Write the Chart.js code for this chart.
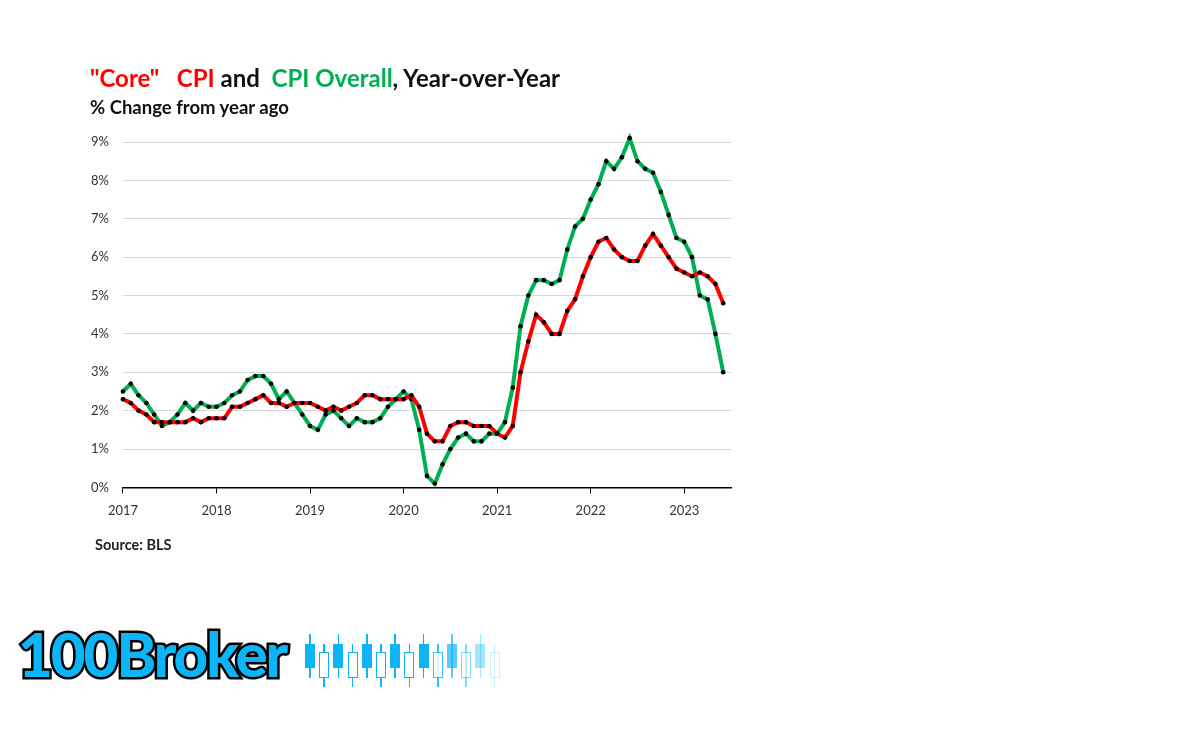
<!DOCTYPE html>
<html>
<head>
<meta charset="utf-8">
<script src="https://cdn.jsdelivr.net/npm/chart.js@4.4.0/dist/chart.umd.min.js"></script>
<style>
  body { margin: 0; background: #fff; width: 1200px; height: 730px; overflow: hidden; font-family: Lato, "Open Sans", sans-serif; }
  #wrap { position: absolute; left: 0; top: 0; width: 1200px; height: 730px; }
  .title { position: absolute; left: 90px; top: 63px; font-size: 24px; font-weight: bold; color: #111; white-space: pre; }
  .sub { position: absolute; left: 90px; top: 96px; font-size: 18.5px; font-weight: bold; color: #111; }
  .src { position: absolute; left: 95px; top: 536px; font-size: 14.5px; font-weight: bold; color: #222; }
  .red { color: #ff0000; }
  .green { color: #00b050; }
  .logo { position: absolute; left: 18px; top: 618px; font-size: 60px; font-weight: 900; color: #0db4f6;
          -webkit-text-stroke: 5px #000; paint-order: stroke fill; letter-spacing: -2px; }
  #candles { position: absolute; left: 305px; top: 633px; width: 210px; height: 56px; }
  .c { position: absolute; width: 10px; }
</style>
</head>
<body>
<div id="wrap"><canvas id="chart" width="1200" height="730"></canvas></div>
<div class="title"><span class="red">"Core"   CPI</span> and  <span class="green">CPI Overall</span>, Year-over-Year</div>
<div class="sub">% Change from year ago</div>
<div class="src">Source: BLS</div>
<div class="logo">100Broker</div>
<div id="candles"></div>
<script>
// monthly, Jan 2017 .. Jun 2023
const years = ['2017', '2018', '2019', '2020', '2021', '2022', '2023'];
const yTicks = [0, 1, 2, 3, 4, 5, 6, 7, 8, 9];

const coreCpi = [
  2.3, 2.2, 2.0, 1.9, 1.7, 1.7, 1.7, 1.7, 1.7, 1.8, 1.7, 1.8,
  1.8, 1.8, 2.1, 2.1, 2.2, 2.3, 2.4, 2.2, 2.2, 2.1, 2.2, 2.2,
  2.2, 2.1, 2.0, 2.1, 2.0, 2.1, 2.2, 2.4, 2.4, 2.3, 2.3, 2.3,
  2.3, 2.4, 2.1, 1.4, 1.2, 1.2, 1.6, 1.7, 1.7, 1.6, 1.6, 1.6,
  1.4, 1.3, 1.6, 3.0, 3.8, 4.5, 4.3, 4.0, 4.0, 4.6, 4.9, 5.5,
  6.0, 6.4, 6.5, 6.2, 6.0, 5.9, 5.9, 6.3, 6.6, 6.3, 6.0, 5.7,
  5.6, 5.5, 5.6, 5.5, 5.3, 4.8
];

const overallCpi = [
  2.5, 2.7, 2.4, 2.2, 1.9, 1.6, 1.7, 1.9, 2.2, 2.0, 2.2, 2.1,
  2.1, 2.2, 2.4, 2.5, 2.8, 2.9, 2.9, 2.7, 2.3, 2.5, 2.2, 1.9,
  1.6, 1.5, 1.9, 2.0, 1.8, 1.6, 1.8, 1.7, 1.7, 1.8, 2.1, 2.3,
  2.5, 2.3, 1.5, 0.3, 0.1, 0.6, 1.0, 1.3, 1.4, 1.2, 1.2, 1.4,
  1.4, 1.7, 2.6, 4.2, 5.0, 5.4, 5.4, 5.3, 5.4, 6.2, 6.8, 7.0,
  7.5, 7.9, 8.5, 8.3, 8.6, 9.1, 8.5, 8.3, 8.2, 7.7, 7.1, 6.5,
  6.4, 6.0, 5.0, 4.9, 4.0, 3.0
];

function toPoints(arr) {
  return arr.map((v, i) => ({ x: i, y: v }));
}

const tickFont = { family: 'Lato, "Open Sans", sans-serif', size: 13 };

new Chart(document.getElementById('chart').getContext('2d'), {
  type: 'line',
  data: {
    datasets: [
      {
        label: 'Core CPI',
        data: toPoints(coreCpi),
        borderColor: '#ff0000',
        borderWidth: 4,
        pointRadius: 2.3,
        pointBackgroundColor: '#000',
        pointBorderWidth: 0,
        tension: 0,
        clip: false
      },
      {
        label: 'CPI Overall',
        data: toPoints(overallCpi),
        borderColor: '#00b050',
        borderWidth: 4,
        pointRadius: 2.3,
        pointBackgroundColor: '#000',
        pointBorderWidth: 0,
        tension: 0,
        clip: false
      }
    ]
  },
  options: {
    responsive: false,
    animation: false,
    layout: { padding: { left: 77, top: 142, right: 469, bottom: 201 } },
    plugins: { legend: { display: false }, tooltip: { enabled: false } },
    scales: {
      x: {
        type: 'linear',
        min: 0,
        max: 78,
        afterBuildTicks: function(scale) {
          scale.ticks = years.map((y, i) => ({ value: i * 12 }));
        },
        ticks: {
          color: '#333',
          font: tickFont,
          padding: 10,
          maxRotation: 0,
          callback: function(value) { return years[value / 12]; }
        },
        grid: { drawOnChartArea: false, drawTicks: true, tickLength: 6, color: '#000' },
        border: { color: '#000', width: 1.5 }
      },
      y: {
        min: 0,
        max: 9,
        afterBuildTicks: function(scale) {
          scale.ticks = yTicks.map(v => ({ value: v }));
        },
        ticks: {
          color: '#333',
          font: tickFont,
          padding: 14,
          callback: function(value) { return value + '%'; }
        },
        grid: { color: '#d9d9d9', drawTicks: false },
        border: { display: false }
      }
    }
  }
});

// decorative candles of the logo
const candleBox = document.getElementById('candles');
for (let i = 0; i < 14; i++) {
  const up = i % 2 === 0;
  const op = Math.max(0.12, 1 - Math.max(0, i - 8) * 0.16);
  const left = i * 14.2;
  const wick = document.createElement('div');
  wick.className = 'c';
  wick.style.cssText = 'left:' + (left + 4.2) + 'px;width:1.6px;background:#0db4f6;opacity:' + op + ';top:' + (up ? 1 : 11) + 'px;height:' + (up ? 44 : 43) + 'px';
  candleBox.appendChild(wick);
  const body = document.createElement('div');
  body.className = 'c';
  body.style.cssText = 'left:' + left + 'px;opacity:' + op + ';top:' + (up ? 11 : 19) + 'px;height:' + (up ? 24 : 26) + 'px;box-sizing:border-box;border:1.6px solid #0db4f6;background:' + (up ? '#0db4f6' : '#fff');
  candleBox.appendChild(body);
}
</script>
</body>
</html>
